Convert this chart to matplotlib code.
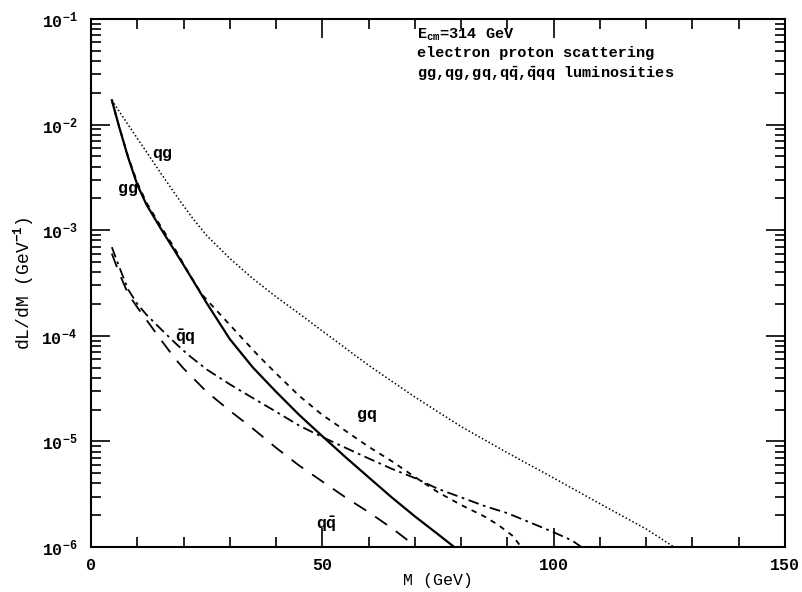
import matplotlib
matplotlib.use("Agg")
import matplotlib.pyplot as plt
from matplotlib.ticker import MultipleLocator, LogLocator, NullFormatter

plt.rcParams['font.family'] = ['Liberation Mono', 'DejaVu Sans Mono']
plt.rcParams['font.weight'] = 'bold'
plt.rcParams['mathtext.fontset'] = 'custom'
plt.rcParams['mathtext.rm'] = 'Liberation Mono:bold'
plt.rcParams['mathtext.it'] = 'Liberation Mono:bold'
plt.rcParams['mathtext.bf'] = 'Liberation Mono:bold'

# luminosity curves, M in GeV, dL/dM in 1/GeV
m_gg = [4.5, 6, 8, 10, 12, 15, 20, 25, 30, 35, 40, 45, 50, 55, 60, 65, 70, 75, 78.5]
l_gg = [1.70e-2, 9.77e-3, 4.9e-3, 2.69e-3, 1.74e-3, 1.05e-3, 4.68e-4, 2.04e-4, 9.3e-5,
        5.0e-5, 2.95e-5, 1.78e-5, 1.12e-5, 7.1e-6, 4.57e-6, 2.95e-6, 1.95e-6, 1.32e-6, 1.0e-6]

m_qg = [4.5, 6, 8, 10, 12, 15, 18, 20, 22, 25, 30, 35, 40, 45, 50, 60, 70, 80, 90, 100,
        110, 120, 126]
l_qg = [1.70e-2, 1.35e-2, 1.0e-2, 7.4e-3, 5.5e-3, 3.5e-3, 2.26e-3, 1.70e-3, 1.29e-3,
        8.9e-4, 5.4e-4, 3.47e-4, 2.34e-4, 1.62e-4, 1.11e-4, 5.25e-5, 2.63e-5, 1.38e-5,
        7.8e-6, 4.5e-6, 2.57e-6, 1.48e-6, 1.0e-6]

m_gq = [4.5, 6, 8, 10, 12, 15, 18, 21, 24, 28, 32, 36, 40, 45, 50, 55, 60, 65, 70, 75,
        80, 85, 88, 91, 93]
l_gq = [1.70e-2, 9.8e-3, 5.0e-3, 2.82e-3, 1.82e-3, 1.10e-3, 6.8e-4, 4.0e-4, 2.45e-4,
        1.58e-4, 1.02e-4, 6.6e-5, 4.4e-5, 2.7e-5, 1.78e-5, 1.26e-5, 8.9e-6, 6.5e-6,
        4.6e-6, 3.3e-6, 2.5e-6, 1.95e-6, 1.62e-6, 1.29e-6, 1.0e-6]

m_qbq = [4.5, 6, 8, 10, 12, 15, 18, 21, 25, 30, 35, 40, 45, 50, 55, 60, 65, 70, 75, 80,
         85, 90, 95, 100, 104, 106]
l_qbq = [6.9e-4, 4.6e-4, 2.75e-4, 2.0e-4, 1.58e-4, 1.17e-4, 8.7e-5, 6.6e-5, 4.8e-5,
         3.47e-5, 2.57e-5, 1.91e-5, 1.41e-5, 1.10e-5, 8.7e-6, 6.9e-6, 5.5e-6, 4.5e-6,
         3.55e-6, 2.95e-6, 2.45e-6, 2.09e-6, 1.70e-6, 1.38e-6, 1.15e-6, 1.0e-6]

m_qqb = [4.5, 6, 8, 10, 12, 15, 18, 20, 25, 30, 35, 40, 45, 50, 55, 60, 65, 68, 70]
l_qqb = [6.0e-4, 4.0e-4, 2.5e-4, 1.86e-4, 1.41e-4, 9.3e-5, 6.2e-5, 4.9e-5, 2.95e-5,
         1.95e-5, 1.32e-5, 8.7e-6, 5.9e-6, 4.17e-6, 2.95e-6, 2.14e-6, 1.51e-6, 1.2e-6, 1.0e-6]

fig = plt.figure(figsize=(8.02, 5.92), dpi=100)
ax = fig.add_axes([0.1135, 0.076, 0.8653, 0.892])

ax.plot(m_gq, l_gq, color='k', lw=1.3, ls=(0, (3, 3)))
ax.plot(m_qg, l_qg, color='k', lw=1.1, ls=(0, (1, 1.5)))
ax.plot(m_qbq, l_qbq, color='k', lw=1.3, ls=(0, (6, 2.5, 1.5, 2.5)))
ax.plot(m_qqb, l_qqb, color='k', lw=1.3, ls=(0, (8, 6)))
ax.plot(m_gg, l_gg, color='k', lw=1.6)

ax.set_yscale('log')
ax.set_xlim(0, 150)
ax.set_ylim(1e-6, 1e-1)

ax.xaxis.set_major_locator(MultipleLocator(50))
ax.xaxis.set_minor_locator(MultipleLocator(10))
ax.yaxis.set_major_locator(LogLocator(base=10, numticks=10))
ax.yaxis.set_minor_locator(LogLocator(base=10, subs=range(2, 10), numticks=10))
ax.yaxis.set_minor_formatter(NullFormatter())

ax.tick_params(which='both', direction='in', top=True, right=True, width=1.2,
               labelsize=12)
ax.tick_params(which='major', length=14)
ax.tick_params(which='minor', length=7)
ax.tick_params(axis='x', pad=8)
ax.tick_params(axis='y', pad=10)
for sp in ax.spines.values():
    sp.set_linewidth(1.5)

ax.set_xlabel('M (GeV)', fontsize=12, labelpad=0)
ax.set_ylabel(r'dL/dM (GeV$^{-1}$)', fontsize=13, labelpad=4)

# curve labels
ax.text(15.3, 10**-2.27, 'qg', fontsize=12, ha='center', va='center')
ax.text(8.0, 10**-2.61, 'gg', fontsize=12, ha='center', va='center')
ax.text(20.3, 10**-4.01, r'$\bar{\mathrm{q}}$q', fontsize=12, ha='center', va='center')
ax.text(59.6, 10**-4.75, 'gq', fontsize=12, ha='center', va='center')
ax.text(50.8, 10**-5.78, r'q$\bar{\mathrm{q}}$', fontsize=12, ha='center', va='center')

ax.text(0.47, 0.970, r'E$_{\rm cm}$=314 GeV', transform=ax.transAxes, fontsize=11,
        va='center')
ax.text(0.47, 0.936, 'electron proton scattering', transform=ax.transAxes,
        fontsize=11, va='center')
ax.text(0.47, 0.896,
        r'gg,qg,gq,q$\bar{\mathrm{q}}$,$\bar{\mathrm{q}}$qq luminosities',
        transform=ax.transAxes, fontsize=11, va='center')

fig.savefig('out.png', dpi=100)
